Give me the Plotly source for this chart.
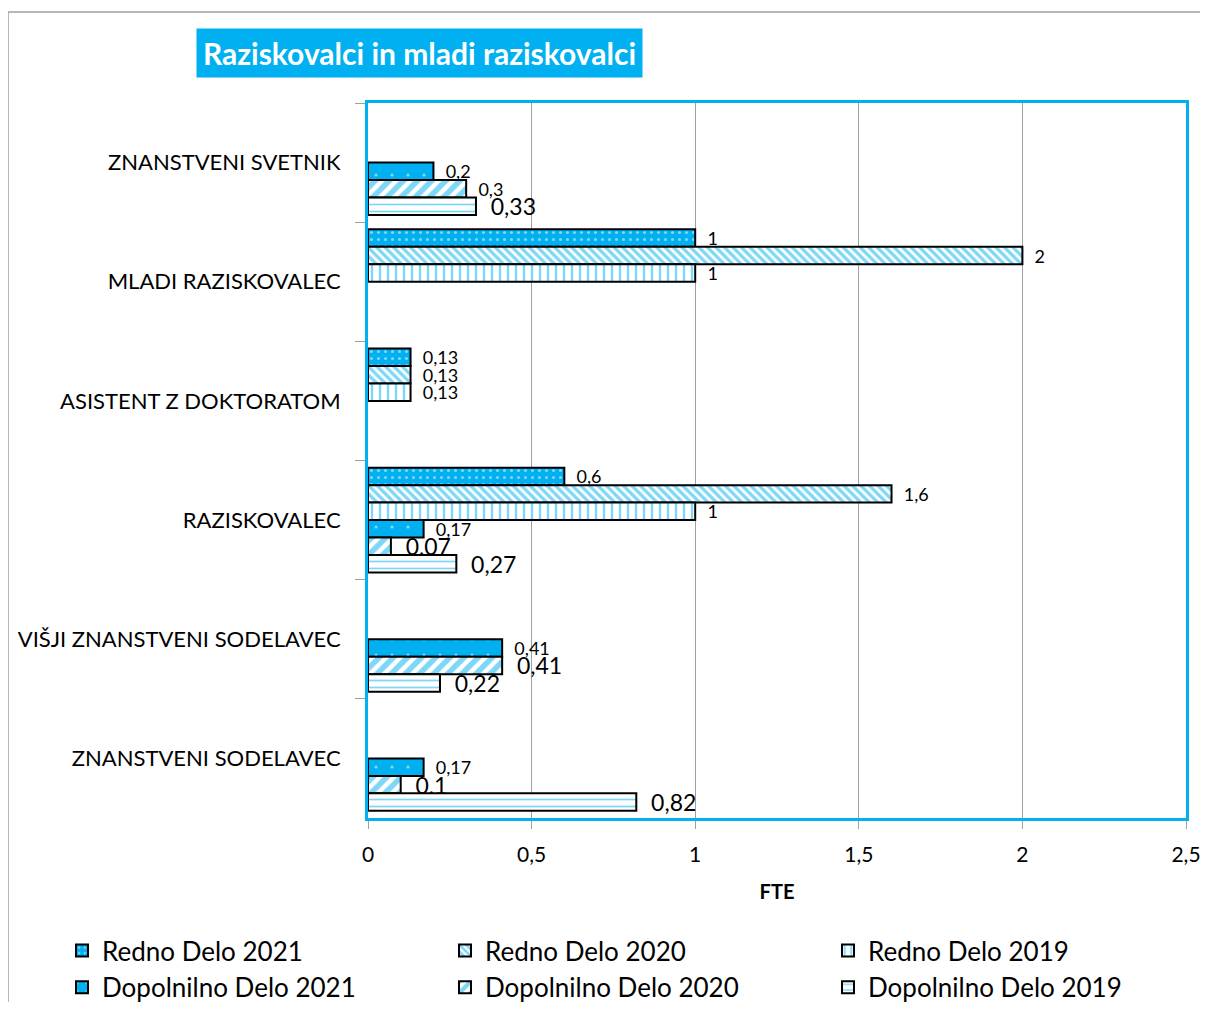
import plotly.graph_objects as go

categories = ["ZNANSTVENI SVETNIK", "MLADI RAZISKOVALEC", "ASISTENT Z DOKTORATOM",
              "RAZISKOVALEC", "VIŠJI ZNANSTVENI SODELAVEC", "ZNANSTVENI SODELAVEC"]

series_names = ["Redno Delo 2021", "Redno Delo 2020", "Redno Delo 2019",
                "Dopolnilno Delo 2021", "Dopolnilno Delo 2020", "Dopolnilno Delo 2019"]

redno_2021 = [None, 1, 0.13, 0.6, None, None]
redno_2020 = [None, 2, 0.13, 1.6, None, None]
redno_2019 = [None, 1, 0.13, 1, None, None]
dopolnilno_2021 = [0.2, None, None, 0.17, 0.41, 0.17]
dopolnilno_2020 = [0.3, None, None, 0.07, 0.41, 0.1]
dopolnilno_2019 = [0.33, None, None, 0.27, 0.22, 0.82]

series_values = [redno_2021, redno_2020, redno_2019,
                 dopolnilno_2021, dopolnilno_2020, dopolnilno_2019]

x_ticks = [0, 0.5, 1, 1.5, 2, 2.5]

BLUE = "#00B0F0"
FONT = "Lato, sans-serif"
patterns = [
    dict(shape=".", bgcolor=BLUE, fgcolor="white", size=7, solidity=0.15),
    dict(shape="\\", bgcolor="white", fgcolor=BLUE, size=6, solidity=0.55),
    dict(shape="|", bgcolor="white", fgcolor=BLUE, size=8, solidity=0.3),
    dict(shape=".", bgcolor=BLUE, fgcolor="white", size=16, solidity=0.03),
    dict(shape="/", bgcolor="white", fgcolor=BLUE, size=10, solidity=0.55),
    dict(shape="-", bgcolor="white", fgcolor=BLUE, size=7, solidity=0.25),
]

def fmt(v):
    if v is None:
        return ""
    s = ("%g" % v).replace(".", ",")
    return "\u00a0\u00a0" + s

small, large = 18, 23
label_sizes = [
    [small] * 6,
    [small] * 6,
    [small] * 6,
    [small] * 6,
    [small, small, small, large, large, large],
    [large] * 6,
]

fig = go.Figure()
for name, vals, pat, sizes in zip(series_names, series_values, patterns, label_sizes):
    fig.add_trace(go.Bar(
        y=categories, x=vals, name=name, orientation="h",
        marker=dict(color=BLUE, line=dict(color="black", width=2), pattern=pat),
        text=[fmt(v) for v in vals], textposition="outside",
        textfont=dict(size=sizes, color="black", family=FONT),
        constraintext="none", cliponaxis=False,
    ))

# page has an 8px body margin; work in page pixels and shift
OFF = 8
W, H = 1208 - 2 * OFF, 1010 - 2 * OFF
L, R, T, B = 368 - OFF, 1186 - OFF, 103 - OFF, 818 - OFF
pw, ph = R - L, B - T

def px(x):
    return (x - OFF - L) / pw

def py(y):
    return (B - (y - OFF)) / ph

fig.update_layout(
    width=W, height=H,
    margin=dict(l=L, r=W - R, t=T, b=H - B, autoexpand=False),
    paper_bgcolor="white", plot_bgcolor="white",
    separators=", ",
    barmode="group", bargap=0.12, bargroupgap=0,
    font=dict(family=FONT, color="black"),
    showlegend=True,
    legend=dict(orientation="h", x=px(62), xanchor="left", y=py(927), yanchor="top",
                entrywidth=338, entrywidthmode="pixels",
                font=dict(size=26, family=FONT), traceorder="normal",
                itemwidth=30, tracegroupgap=0),
    xaxis=dict(range=[0, 2.5], tickvals=x_ticks, tickformat=",.1~f",
               showgrid=True, gridcolor="#A0A0A0", gridwidth=1,
               showline=True, mirror=True, linecolor=BLUE, linewidth=3,
               ticks="outside", ticklen=8, tickcolor="#A0A0A0",
               tickfont=dict(size=21), ticklabelstandoff=8,
               ticklabeloverflow="allow",
               title=dict(text="<b>FTE</b>", font=dict(size=20), standoff=20),
               zeroline=False),
    yaxis=dict(type="category", autorange="reversed", categoryorder="array",
               categoryarray=categories, tickson="boundaries",
               showline=True, mirror=True, linecolor=BLUE, linewidth=3,
               ticks="outside", ticklen=10, tickcolor="#A0A0A0",
               tickfont=dict(size=22), ticklabelstandoff=20, showgrid=False),
    annotations=[dict(text="<b>Raziskovalci in mladi raziskovalci</b>",
                      xref="paper", yref="paper", x=px(419.5), y=py(53),
                      xanchor="center", yanchor="middle", showarrow=False,
                      bgcolor=BLUE, borderpad=6,
                      font=dict(size=30, color="white", family=FONT))],
    shapes=[dict(type="rect", xref="paper", yref="paper",
                 x0=px(8), x1=px(1240), y0=py(12), y1=py(1040),
                 line=dict(color="#A0A0A0", width=1.5), layer="below")],
)

fig.write_html("out.html")
